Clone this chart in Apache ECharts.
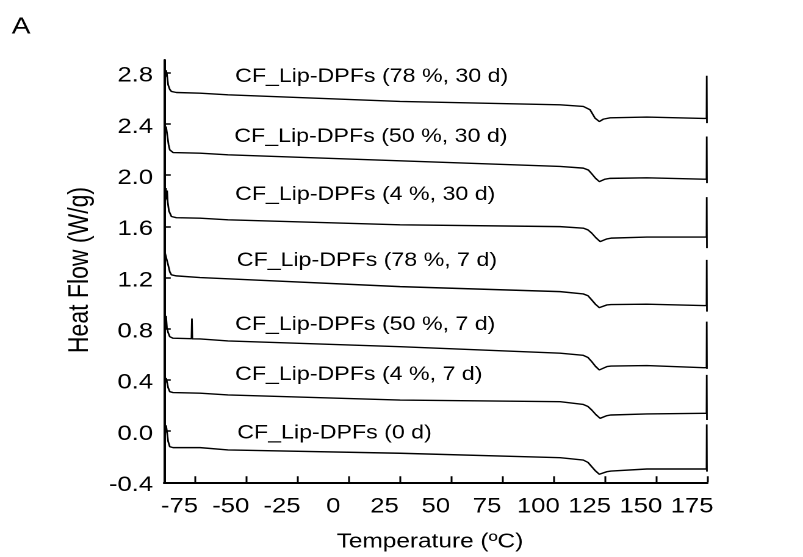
<!DOCTYPE html>
<html>
<head>
<meta charset="utf-8">
<script src="https://cdn.jsdelivr.net/npm/echarts@6/dist/echarts.min.js"></script>
<style>
  html, body { margin: 0; padding: 0; background: #fff; overflow: hidden; }
  #wrap { width: 803px; height: 557px; overflow: hidden; }
  /* the figure is laid out narrow and widened horizontally, like the original export */
  #chart { width: 658px; height: 557px; transform: scaleX(1.2204); transform-origin: 0 0; }
</style>
</head>
<body>
<div id="wrap"><div id="chart"></div></div>
<script>
// DSC thermograms, [temperature (ºC), heat flow (W/g)]
const lip78_30d = [
  [-89.3, 2.77], [-89.0, 2.82], [-88.6, 2.79], [-88.0, 2.706], [-87.2, 2.67], [-86.4, 2.654],
  [-84.0, 2.646], [-72.4, 2.641], [-58.8, 2.628], [25.1, 2.576], [103.2, 2.550], [114.5, 2.537],
  [117.8, 2.511], [120.2, 2.446], [122.3, 2.419], [124.3, 2.438], [127.6, 2.448], [145.5, 2.454],
  [173.1, 2.443], [174.6, 2.443], [174.7, 2.777], [174.8, 2.407]
];
const lip50_30d = [
  [-89.4, 2.36], [-89.0, 2.38], [-88.4, 2.31], [-87.8, 2.24], [-87.2, 2.198], [-85.6, 2.177],
  [-72.4, 2.172], [-58.8, 2.159], [25.1, 2.112], [103.2, 2.068], [114.5, 2.055], [117.0, 2.040],
  [118.6, 2.011], [120.5, 1.975], [122.3, 1.950], [125.1, 1.969], [127.6, 1.975], [145.5, 1.979],
  [173.1, 1.969], [174.6, 1.969], [174.7, 2.302], [174.8, 1.938]
];
const lip4_30d = [
  [-89.4, 1.80], [-89.1, 1.90], [-88.8, 1.81], [-88.5, 1.88], [-88.2, 1.79], [-87.6, 1.72],
  [-86.4, 1.677], [-84.0, 1.668], [-72.4, 1.664], [-58.8, 1.651], [25.1, 1.612], [103.2, 1.598],
  [114.5, 1.586], [116.8, 1.572], [118.6, 1.547], [120.7, 1.510], [122.7, 1.481], [126.0, 1.502],
  [128.0, 1.508], [145.5, 1.516], [173.1, 1.516], [174.6, 1.516], [174.7, 1.828], [174.8, 1.430]
];
const lip78_7d = [
  [-89.6, 1.40], [-89.0, 1.36], [-88.0, 1.299], [-87.2, 1.245], [-86.4, 1.221], [-84.0, 1.213],
  [-72.4, 1.200], [-58.8, 1.190], [25.1, 1.129], [103.2, 1.090], [114.5, 1.072], [116.8, 1.058],
  [118.6, 1.025], [120.5, 0.990], [122.3, 0.965], [126.0, 0.986], [128.0, 0.989], [145.5, 0.992],
  [173.1, 0.981], [174.6, 0.981], [174.7, 1.338], [174.8, 0.934]
];
const lip50_7d = [
  [-89.3, 0.80], [-89.0, 0.90], [-88.6, 0.81], [-88.0, 0.77], [-87.2, 0.738], [-85.6, 0.726],
  [-76.6, 0.722], [-76.4, 0.88], [-76.2, 0.721], [-72.4, 0.720], [-58.8, 0.705], [25.1, 0.660],
  [103.2, 0.609], [114.5, 0.592], [116.8, 0.575], [118.6, 0.543], [120.5, 0.505], [122.3, 0.478],
  [126.0, 0.504], [128.0, 0.508], [145.5, 0.512], [173.1, 0.496], [174.6, 0.496], [174.7, 0.856],
  [174.8, 0.486]
];
const lip4_7d = [
  [-89.3, 0.38], [-89.0, 0.415], [-88.5, 0.38], [-88.0, 0.34], [-87.2, 0.308], [-85.6, 0.301],
  [-72.4, 0.296], [-58.8, 0.283], [25.1, 0.243], [103.2, 0.230], [114.5, 0.208], [116.8, 0.192],
  [118.6, 0.165], [120.7, 0.128], [122.7, 0.100], [126.0, 0.121], [128.0, 0.126], [145.5, 0.134],
  [173.1, 0.139], [174.6, 0.139], [174.7, 0.439], [174.8, 0.087]
];
const lip0d = [
  [-89.3, -0.01], [-89.0, 0.045], [-88.6, 0.00], [-88.0, -0.08], [-87.2, -0.122], [-85.6, -0.129],
  [-72.4, -0.129], [-58.8, -0.147], [25.1, -0.173], [103.2, -0.208], [114.5, -0.226], [116.8, -0.245],
  [118.6, -0.278], [120.5, -0.312], [122.3, -0.337], [126.0, -0.317], [128.0, -0.312], [145.5, -0.296],
  [173.1, -0.296], [174.6, -0.296], [174.7, 0.053], [174.8, -0.317]
];

const sampleNames = [
  'CF_Lip-DPFs (78 %, 30 d)',
  'CF_Lip-DPFs (50 %, 30 d)',
  'CF_Lip-DPFs (4 %, 30 d)',
  'CF_Lip-DPFs (78 %, 7 d)',
  'CF_Lip-DPFs (50 %, 7 d)',
  'CF_Lip-DPFs (4 %, 7 d)',
  'CF_Lip-DPFs (0 d)'
];
const curves = [lip78_30d, lip50_30d, lip4_30d, lip78_7d, lip50_7d, lip4_7d, lip0d];

const xTicks = [-75, -50, -25, 0, 25, 50, 75, 100, 125, 150, 175];
const yTicks = [-0.4, 0.0, 0.4, 0.8, 1.2, 1.6, 2.0, 2.4, 2.8];

const FONT = '"Liberation Sans", Arial, sans-serif';

// where each curve's caption sits (pixels, before horizontal widening)
const captionPos = [
  [192.6, 76.7], [192.0, 136.7], [192.6, 195.0], [194.0, 261.0],
  [192.6, 325.0], [192.6, 375.0], [194.4, 433.3]
];

const chart = echarts.init(document.getElementById('chart'), null, { renderer: 'canvas', devicePixelRatio: 2 });

const graphics = captionPos.map((p, i) => ({
  type: 'text', x: p[0], y: p[1], silent: true,
  style: { text: sampleNames[i], font: '19px ' + FONT, fill: '#000', align: 'left', verticalAlign: 'middle' }
}));
graphics.push({
  type: 'text', x: 9.6, y: 27, silent: true,
  style: { text: 'A', font: '23px ' + FONT, fill: '#000', align: 'left', verticalAlign: 'middle' }
});
graphics.push({
  type: 'text', x: 65.6, y: 270, rotation: Math.PI / 2, silent: true,
  style: { text: 'Heat Flow (W/g)', font: '23px ' + FONT, fill: '#000', align: 'center', verticalAlign: 'middle' }
});
graphics.push({
  type: 'text', x: 352.3, y: 542, silent: true,
  style: { text: 'Temperature (ºC)', font: '20px ' + FONT, fill: '#000', align: 'center', verticalAlign: 'middle' }
});

chart.setOption({
  animation: false,
  backgroundColor: '#fff',
  grid: { left: 134.4, right: 78.4, top: 60, bottom: 74.7, containLabel: false, outerBoundsMode: 'none' },
  xAxis: {
    type: 'value', min: -90, max: 175,
    axisLine: { show: true, onZero: false, lineStyle: { color: '#000', width: 2 } },
    axisTick: { show: true, inside: true, length: 6, customValues: xTicks, lineStyle: { color: '#000', width: 1.5 } },
    axisLabel: {
      customValues: xTicks, margin: 14, color: '#000', fontFamily: FONT, fontSize: 21,
      padding: [0, 25, 0, 0], formatter: v => String(v)
    },
    splitLine: { show: false }
  },
  yAxis: {
    type: 'value', min: -0.4, max: 2.9,
    axisLine: { show: true, onZero: false, lineStyle: { color: '#000', width: 2 } },
    axisTick: { show: true, inside: true, length: 5.5, customValues: yTicks, lineStyle: { color: '#000', width: 1.5 } },
    axisLabel: {
      customValues: yTicks, margin: 9,
      formatter: v => '{v|' + (Math.abs(v) < 1e-9 ? 0 : v).toFixed(1) + '}',
      rich: { v: { color: '#000', fontFamily: FONT, fontSize: 21, padding: [6, 0, 0, 0] } }
    },
    splitLine: { show: false }
  },
  graphic: graphics,
  series: curves.map((d, i) => ({
    name: sampleNames[i],
    type: 'line',
    data: d,
    showSymbol: false,
    symbol: 'none',
    lineStyle: { color: '#000', width: 1.4 },
    clip: true
  }))
});
</script>
</body>
</html>
